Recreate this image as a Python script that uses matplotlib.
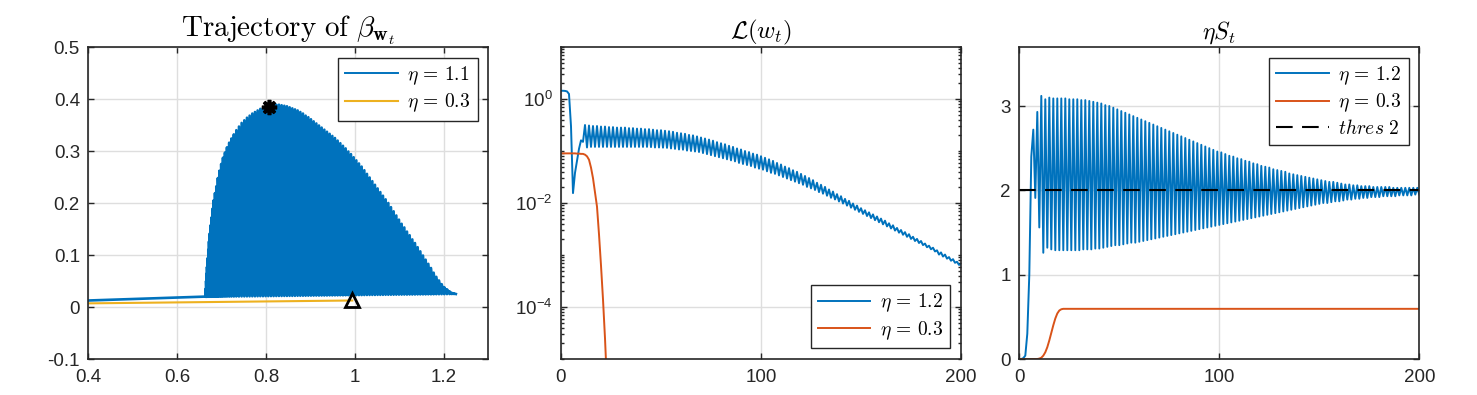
import numpy as np
import matplotlib
matplotlib.use("Agg")
import matplotlib.pyplot as plt
from matplotlib.ticker import FixedLocator, LogLocator, NullFormatter

plt.rcParams['font.family'] = ['Liberation Sans', 'DejaVu Sans']
plt.rcParams['mathtext.fontset'] = 'cm'
plt.rcParams['axes.unicode_minus'] = False

BLUE = '#0072BD'
ORANGE = '#D95319'
YELLOW = '#EDB120'
DARK = '#262626'

# ---------------- panel 1: trajectory of beta ----------------
# lead-in before the oscillation starts
beta_lead_x = [0.400]
beta_lead_y = [0.0125]
# upper turning points of the zigzag
beta_top_x = [0.663, 0.664, 0.665, 0.666, 0.667, 0.6685, 0.670, 0.6715, 0.673, 0.675,
              0.677, 0.6795, 0.682, 0.685, 0.688, 0.6915, 0.695, 0.699, 0.703, 0.7075,
              0.712, 0.717, 0.722, 0.7275, 0.733, 0.739, 0.745, 0.751,
              0.757, 0.763, 0.769, 0.775, 0.781, 0.787, 0.793, 0.799, 0.805, 0.811,
              0.817, 0.823, 0.829, 0.835, 0.841, 0.847, 0.853, 0.859, 0.865, 0.871,
              0.877, 0.883, 0.889, 0.895, 0.901, 0.907, 0.913, 0.919, 0.925, 0.931,
              0.937, 0.943, 0.949, 0.955, 0.961, 0.967, 0.973, 0.979, 0.985, 0.991,
              0.997, 1.003, 1.009, 1.015, 1.021, 1.027, 1.033, 1.039, 1.045, 1.051,
              1.057, 1.063, 1.069, 1.075, 1.081, 1.087, 1.093, 1.099, 1.105, 1.111,
              1.117, 1.123, 1.129, 1.135, 1.141, 1.147, 1.153, 1.159, 1.165, 1.171,
              1.177, 1.183, 1.189, 1.195, 1.201, 1.207, 1.213,
              1.218, 1.223, 1.227]
beta_top_y = [0.020, 0.035, 0.050, 0.064, 0.077, 0.094, 0.110, 0.126, 0.141, 0.157,
              0.172, 0.189, 0.205, 0.219, 0.232, 0.248, 0.262, 0.275, 0.287, 0.297,
              0.307, 0.316, 0.324, 0.332, 0.340, 0.347, 0.354, 0.359,
              0.364, 0.368, 0.372, 0.375, 0.378, 0.381, 0.383, 0.385, 0.386, 0.387,
              0.388, 0.389, 0.389, 0.388, 0.387, 0.386, 0.384, 0.382, 0.380, 0.378,
              0.375, 0.372, 0.368, 0.365, 0.361, 0.357, 0.353, 0.349, 0.345, 0.341,
              0.337, 0.333, 0.329, 0.325, 0.320, 0.315, 0.310, 0.305, 0.299, 0.294,
              0.288, 0.282, 0.276, 0.270, 0.263, 0.256, 0.249, 0.242, 0.235, 0.228,
              0.221, 0.214, 0.207, 0.200, 0.192, 0.184, 0.176, 0.168, 0.160, 0.153,
              0.145, 0.138, 0.130, 0.123, 0.115, 0.107, 0.099, 0.091, 0.083, 0.075,
              0.066, 0.058, 0.051, 0.044, 0.038, 0.034, 0.030,
              0.027, 0.026, 0.025]
# lower turning points (each sits under the next upper point)
beta_bot_y = [0.0196, 0.0196, 0.0196, 0.0196, 0.0197, 0.0197, 0.0197, 0.0197, 0.0197, 0.0197,
              0.0198, 0.0198, 0.0198, 0.0198, 0.0199, 0.0199, 0.0199, 0.0200, 0.0200, 0.0201,
              0.0201, 0.0202, 0.0202, 0.0203, 0.0203, 0.0204, 0.0204,
              0.0205, 0.0205, 0.0206, 0.0206, 0.0207, 0.0208, 0.0208, 0.0209, 0.0209, 0.0210,
              0.0210, 0.0211, 0.0212, 0.0212, 0.0213, 0.0213, 0.0214, 0.0214, 0.0215, 0.0216,
              0.0216, 0.0217, 0.0217, 0.0218, 0.0219, 0.0219, 0.0220, 0.0220, 0.0221, 0.0221,
              0.0222, 0.0223, 0.0223, 0.0224, 0.0224, 0.0225, 0.0225, 0.0226, 0.0227, 0.0227,
              0.0228, 0.0228, 0.0229, 0.0229, 0.0230, 0.0231, 0.0231, 0.0232, 0.0232, 0.0233,
              0.0233, 0.0234, 0.0235, 0.0235, 0.0236, 0.0236, 0.0237, 0.0238, 0.0238, 0.0239,
              0.0239, 0.0240, 0.0240, 0.0241, 0.0242, 0.0242, 0.0243, 0.0243, 0.0244, 0.0244,
              0.0245, 0.0246, 0.0246, 0.0247, 0.0247, 0.0248, 0.0249,
              0.0249, 0.0250, 0.0250]
beta_small_x = [0.400, 0.994]
beta_small_y = [0.0070, 0.0125]
star_pt = (0.806, 0.385)
tri_pt = (0.994, 0.013)

# ---------------- panel 2: loss ----------------
loss_big_start = [1.44, 1.44, 1.43, 1.40, 1.25, 0.30, 0.0155, 0.038, 0.065, 0.11, 0.16, 0.15]
# even steps 12..200
loss_big_hi = [0.316, 0.309, 0.302, 0.302, 0.295, 0.295, 0.288, 0.288, 0.282, 0.282,
               0.282, 0.275, 0.275, 0.269, 0.269, 0.263, 0.263, 0.257, 0.251, 0.251,
               0.245, 0.240, 0.234, 0.224, 0.219, 0.214, 0.204, 0.200, 0.191, 0.182,
               0.174, 0.166, 0.158, 0.148, 0.141, 0.135, 0.126, 0.120, 0.112, 0.107,
               0.100, 0.0955, 0.0891, 0.0851, 0.0794, 0.0741, 0.0692, 0.0646, 0.0589, 0.0550,
               0.0501, 0.0468, 0.0427, 0.0398, 0.0363, 0.0331, 0.0302, 0.0275, 0.0245, 0.0224,
               0.0204, 0.0182, 0.0166, 0.0148, 0.0135, 0.0120, 0.0110, 0.00977, 0.00891, 0.00794,
               0.00724, 0.00661, 0.00603, 0.00550, 0.00501, 0.00457, 0.00407, 0.00372, 0.00331, 0.00302,
               0.00275, 0.00251, 0.00224, 0.00204, 0.00186, 0.00166, 0.00151, 0.00138, 0.00123, 0.00112,
               0.00102, 0.000912, 0.000832, 0.000741, 0.000661]
# odd steps 13..199
loss_big_lo = [0.117, 0.120, 0.120, 0.120, 0.120, 0.120, 0.120, 0.120, 0.120, 0.120,
               0.120, 0.120, 0.120, 0.120, 0.120, 0.120, 0.119, 0.117, 0.117, 0.116,
               0.115, 0.112, 0.110, 0.107, 0.106, 0.102, 0.100, 0.0977, 0.0955, 0.0912,
               0.0871, 0.0832, 0.0794, 0.0759, 0.0724, 0.0692, 0.0661, 0.0631, 0.0589, 0.0562,
               0.0537, 0.0513, 0.0479, 0.0457, 0.0437, 0.0407, 0.0380, 0.0363, 0.0339, 0.0316,
               0.0295, 0.0275, 0.0257, 0.0240, 0.0224, 0.0204, 0.0191, 0.0178, 0.0162, 0.0151,
               0.0138, 0.0126, 0.0117, 0.0107, 0.00977, 0.00891, 0.00813, 0.00741, 0.00676, 0.00617,
               0.00562, 0.00513, 0.00468, 0.00427, 0.00389, 0.00355, 0.00324, 0.00295, 0.00269, 0.00245,
               0.00224, 0.00204, 0.00186, 0.00170, 0.00155, 0.00141, 0.00129, 0.00117, 0.00102, 0.000933,
               0.000851, 0.000776, 0.000708, 0.000646]
loss_small = [0.090, 0.090, 0.090, 0.090, 0.090, 0.090, 0.090, 0.090, 0.089, 0.089,
              0.088, 0.088, 0.085, 0.079, 0.068, 0.048, 0.030, 0.016, 0.0085, 0.0025,
              0.00063, 0.00014, 2.5e-5, 3.2e-6, 3.0e-7]

# ---------------- panel 3: eta * sharpness ----------------
sharp_big_start = [0.0, 0.0, 0.01, 0.04, 0.3, 1.0, 2.4]
# odd steps 7..199
sharp_big_hi = [2.72, 2.93, 3.12, 3.08, 3.10, 3.09, 3.09, 3.09, 3.09, 3.08,
                3.08, 3.08, 3.07, 3.07, 3.06, 3.05, 3.04, 3.03, 3.01, 3.00,
                2.98, 2.96, 2.94, 2.92, 2.90, 2.88, 2.86, 2.84, 2.82, 2.80,
                2.78, 2.76, 2.74, 2.72, 2.70, 2.68, 2.66, 2.64, 2.62, 2.60,
                2.58, 2.56, 2.54, 2.52, 2.50, 2.48, 2.46, 2.45, 2.43, 2.41,
                2.40, 2.38, 2.37, 2.35, 2.34, 2.32, 2.31, 2.29, 2.28, 2.27,
                2.25, 2.24, 2.23, 2.22, 2.20, 2.19, 2.18, 2.17, 2.16, 2.15,
                2.14, 2.13, 2.12, 2.11, 2.10, 2.10, 2.09, 2.08, 2.07, 2.07,
                2.06, 2.06, 2.05, 2.05, 2.05, 2.04, 2.04, 2.04, 2.04, 2.04,
                2.03, 2.03, 2.03, 2.03, 2.03, 2.03, 2.03]
# even steps 8..200
sharp_big_lo = [1.91, 1.56, 1.26, 1.32, 1.30, 1.29, 1.29, 1.29, 1.29, 1.29,
                1.29, 1.29, 1.30, 1.30, 1.30, 1.31, 1.31, 1.32, 1.33, 1.34,
                1.35, 1.35, 1.36, 1.37, 1.38, 1.38, 1.39, 1.40, 1.41, 1.42,
                1.43, 1.44, 1.45, 1.46, 1.47, 1.48, 1.49, 1.50, 1.51, 1.52,
                1.53, 1.54, 1.55, 1.56, 1.57, 1.58, 1.59, 1.60, 1.61, 1.62,
                1.63, 1.64, 1.65, 1.66, 1.67, 1.68, 1.69, 1.70, 1.71, 1.72,
                1.73, 1.74, 1.75, 1.76, 1.77, 1.78, 1.79, 1.80, 1.81, 1.82,
                1.83, 1.84, 1.85, 1.85, 1.86, 1.87, 1.87, 1.88, 1.89, 1.89,
                1.90, 1.90, 1.91, 1.91, 1.92, 1.92, 1.92, 1.93, 1.93, 1.93,
                1.93, 1.94, 1.94, 1.94, 1.94, 1.95, 1.95]
sharp_small_ramp = [0.0, 0.0, 0.0, 0.0, 0.0, 0.0, 0.0, 0.0, 0.0, 0.0,
                    0.005, 0.015, 0.04, 0.08, 0.14, 0.22, 0.31, 0.40, 0.48, 0.54,
                    0.575, 0.59, 0.595]
sharp_small_plateau = 0.595
thres = 2.0
n_steps = 200

assert len(beta_top_x) == len(beta_top_y) == len(beta_bot_y) + 1
assert len(loss_big_hi) == len(loss_big_lo) + 1
assert len(sharp_big_hi) == len(sharp_big_lo)


def interleave(a, b):
    out = []
    for i in range(len(b)):
        out += [a[i], b[i]]
    out += a[len(b):]
    return out


# zigzag: top point, then down to the bottom under the next top point, then up
beta_x = list(beta_lead_x) + interleave(beta_top_x, beta_top_x[1:])
beta_y = list(beta_lead_y) + interleave(beta_top_y, beta_bot_y)
loss_big = loss_big_start + interleave(loss_big_hi, loss_big_lo)
sharp_big = sharp_big_start + interleave(sharp_big_hi, sharp_big_lo)
sharp_small = sharp_small_ramp + [sharp_small_plateau] * (n_steps + 1 - len(sharp_small_ramp))


def style(ax):
    ax.set_axisbelow(True)
    ax.grid(True, which='major', color='#dedede', lw=1.0)
    for s in ax.spines.values():
        s.set_color(DARK)
        s.set_linewidth(1.2)
    ax.tick_params(which='both', direction='in', top=True, right=True,
                   colors=DARK, labelsize=13.5, width=1.0)
    ax.tick_params(which='major', length=4.5)
    ax.tick_params(which='minor', length=2.5)
    ax.tick_params(axis='x', pad=7)
    ax.tick_params(axis='y', pad=6)


leg_kw = dict(fontsize=14, frameon=True, fancybox=False, framealpha=1,
              edgecolor=DARK, handlelength=2.7, handletextpad=0.5,
              labelspacing=0.25, borderpad=0.35, borderaxespad=0.55)

fig = plt.figure(figsize=(14.77, 3.95), dpi=100)
bottom = 36 / 395
height = 312 / 395
width = 400 / 1477
ax1 = fig.add_axes([88.3 / 1477, bottom, width, height])
ax2 = fig.add_axes([561 / 1477, bottom, width, height])
ax3 = fig.add_axes([1019.3 / 1477, bottom, width, height])

# panel 1
ax1.plot(beta_x, beta_y, color=BLUE, lw=1.9, label=r'$\eta\,=\,1.1$')
ax1.plot(beta_small_x, beta_small_y, color=YELLOW, lw=1.5, label=r'$\eta\,=\,0.3$')
ax1.plot(*star_pt, marker=(8, 2, 0), color='k', ms=11, mew=2.6)
ax1.plot(*tri_pt, marker='^', mfc='none', mec='k', ms=10, mew=2.0)
ax1.set_xlim(0.4, 1.3)
ax1.set_ylim(-0.1, 0.5)
ax1.set_xticks([0.4, 0.6, 0.8, 1.0, 1.2])
ax1.set_xticklabels(['0.4', '0.6', '0.8', '1', '1.2'])
ax1.set_yticks([-0.1, 0, 0.1, 0.2, 0.3, 0.4, 0.5])
ax1.set_yticklabels(['-0.1', '0', '0.1', '0.2', '0.3', '0.4', '0.5'])
ax1.set_title(r'$\mathrm{Trajectory\ of}\ \beta_{\mathbf{w}_t}$', fontsize=21, pad=6)
style(ax1)
leg1 = ax1.legend(loc='upper right', **leg_kw)
leg1.get_lines()[0].set_linewidth(1.4)

# panel 2
t_loss = np.arange(len(loss_big))
ax2.plot(t_loss, loss_big, color=BLUE, lw=1.4, label=r'$\eta\,=\,1.2$')
ax2.plot(np.arange(len(loss_small)), loss_small, color=ORANGE, lw=1.4, label=r'$\eta\,=\,0.3$')
ax2.set_yscale('log')
ax2.set_xlim(0, n_steps)
ax2.set_ylim(1e-5, 10)
ax2.set_xticks([0, 100, 200])
ax2.yaxis.set_major_locator(FixedLocator([1e-4, 1e-2, 1e0]))
ax2.set_yticklabels([r'$\mathregular{10^{-4}}$', r'$\mathregular{10^{-2}}$', r'$\mathregular{10^{0}}$'])
ax2.yaxis.set_minor_locator(LogLocator(base=10, subs=np.arange(1, 10), numticks=50))
ax2.yaxis.set_minor_formatter(NullFormatter())
ax2.set_title(r'$\mathcal{L}(w_t)$', fontsize=18, pad=6)
style(ax2)
ax2.legend(loc='lower right', **leg_kw)

# panel 3
t_sharp = np.arange(len(sharp_big))
ax3.plot(t_sharp, sharp_big, color=BLUE, lw=1.4, label=r'$\eta\,=\,1.2$')
ax3.plot(np.arange(len(sharp_small)), sharp_small, color=ORANGE, lw=1.4, label=r'$\eta\,=\,0.3$')
ax3.plot([0, n_steps], [thres, thres], color='k', lw=1.5, ls=(0, (8, 4.5)),
         label=r'$thres\ 2$')
ax3.set_xlim(0, n_steps)
ax3.set_ylim(0, 3.7)
ax3.set_xticks([0, 100, 200])
ax3.set_yticks([0, 1, 2, 3])
ax3.set_title(r'$\eta S_t$', fontsize=17, pad=6)
style(ax3)
ax3.legend(loc='upper right', **leg_kw)

fig.savefig('out.png', dpi=100)
